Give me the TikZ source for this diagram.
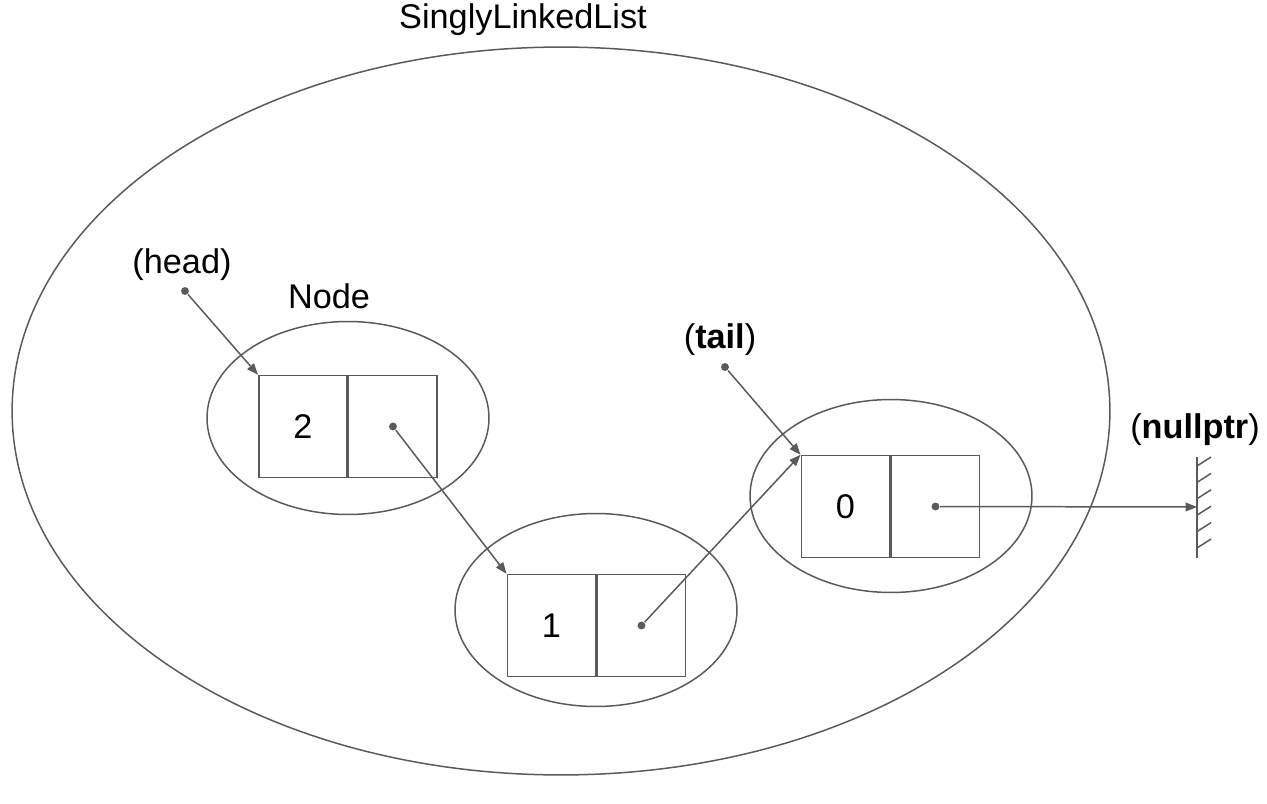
\documentclass[tikz,border=0pt]{standalone}
\usepackage{fontspec}
\setmainfont{Liberation Sans}
\usetikzlibrary{arrows.meta, positioning, shapes.geometric}
\definecolor{linegray}{HTML}{5A5A5A}

\begin{document}
\begin{tikzpicture}[
    x             = 0.02cm,
    y             = -0.02cm,
    font          = \fontsize{19.5}{23}\selectfont,
    line width    = 0.85pt,
    oval/.style   = {draw=linegray, ellipse, inner sep=0pt},
    nodeoval/.style = {oval, minimum width=5.64cm, minimum height=3.86cm},
    field/.style  = {draw=linegray, rectangle, inner sep=0pt,
                     minimum width=1.77cm, minimum height=2.04cm},
    dot/.style    = {circle, fill=linegray, inner sep=0pt, minimum size=4.5pt},
    arr/.style    = {-{Triangle[length=6.5pt, width=5pt]}, linegray},
  ]
  \useasboundingbox (0,0) rectangle (1267,804);

  % the list
  \node[oval, minimum width=21.96cm, minimum height=14.56cm] (sll) at (561,411) {};
  \node (sllname) at (523,20) {SinglyLinkedList};

  % nodes
  \node[nodeoval] (n2) at (348,418) {};
  \node[nodeoval] (n1) at (596,610) {};
  \node[nodeoval] (n0) at (891,496) {};
  \node (nodename) at (329,296) {Node};

  \node[field] (v2) at (303,426.5) {2};
  \node[field, right=0pt of v2] (p2) {};
  \node[field] (v1) at (551.5,625.5) {1};
  \node[field, right=0pt of v1] (p1) {};
  \node[field] (v0) at (845.5,506.5) {0};
  \node[field, right=0pt of v0] (p0) {};

  \node[dot] (d2) at (p2.center) {};
  \node[dot] (d1) at (p1.center) {};
  \node[dot] (d0) at (p0.center) {};

  % head and tail
  \node (headname) at (182,265) {(head)};
  \node[dot] (hd) at (185,291) {};
  \node (tailname) at (720,340) {(\textbf{tail})};
  \node[dot] (td) at (725,367) {};

  % nullptr wall
  \node (nullname) at (1195,430) {(\textbf{nullptr})};
  \coordinate (wt) at (1197,457);
  \coordinate (wb) at (1197,558);
  \coordinate (nl) at (1197,507);
  \draw[linegray] (wt) -- (wb);
  \foreach \k in {0,...,5}
    \draw[linegray] (1197,466+16.4*\k) -- ++(14,-9);

  % links
  \draw[arr] (hd) -- (v2.north west);
  \draw[arr] (d2) -- (v1.north west);
  \draw[arr] (d1) -- (v0.north west);
  \draw[arr] (td) -- (v0.north west);
  \draw[arr] (d0) -- (nl);
\end{tikzpicture}
\end{document}
